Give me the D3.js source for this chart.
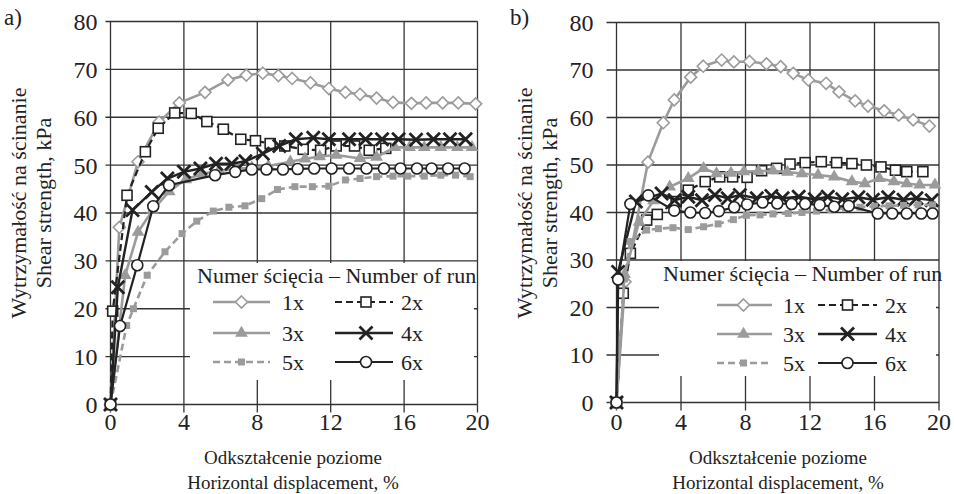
<!DOCTYPE html>
<html>
<head>
<meta charset="utf-8">
<script src="https://cdn.jsdelivr.net/npm/d3@7"></script>
<style>
  body { margin: 0; background: #fff; }
  text { font-family: "Liberation Serif", "Times New Roman", serif; fill: #222; }
</style>
</head>
<body>
<svg id="chart" width="954" height="494"></svg>
<script>
// ---- data ----
const xTicks = [0, 4, 8, 12, 16, 20];
const yTicks = [0, 10, 20, 30, 40, 50, 60, 70, 80];
const runNames = ['1x', '2x', '3x', '4x', '5x', '6x'];
const legendTitle = 'Numer ścięcia – Number of run';
const yTitle = ['Wytrzymałość na ścinanie', 'Shear strength, kPa'];
const xTitle = ['Odkształcenie poziome', 'Horizontal displacement, %'];

// panel a)  [displacement %, shear strength kPa]
const aRun1 = [[0,0],[0.48,37],[1.5,50.7],[2.65,59],[3.75,63],[5.15,65.2],[6.4,67.8],[7.4,68.8],[8.3,69.2],[9.15,68.7],[9.9,68.1],[10.9,67.2],[11.9,66],[12.8,65.2],[13.6,64.8],[14.5,64],[15.4,63.1],[16.4,62.9],[17.2,63],[18.1,63],[18.95,63],[19.9,62.8]];
const aRun2 = [[0,0],[0.12,19.5],[0.9,43.7],[1.9,52.8],[2.6,57.7],[3.5,60.9],[4.4,60.8],[5.25,59.1],[6.15,57.5],[7.1,55.4],[7.9,55.1],[8.7,54.5],[9.5,54],[10.5,53.3],[11.45,53.1],[12.3,54],[13.3,54],[14.1,53.1],[15,53.5]];
const aRun3 = [[0,0],[0.8,27],[1.5,36],[2.3,40.6],[3.2,44.5],[4.1,47],[5,48.2],[5.9,48.8],[6.8,49.2],[7.7,49.5],[8.6,49.8],[9.8,50.7],[10.6,51.3],[11.4,51.8],[12.3,52.1],[13.6,51.4],[14.5,51.7],[15.5,53.7],[16.3,53.7],[17.1,53.7],[18,53.7],[18.9,53.7],[19.7,53.7]];
const aRun4 = [[0,0],[0.4,24.5],[1.2,40.6],[2.25,44.4],[3.1,47.2],[4,48.6],[4.9,49.3],[5.75,50.3],[6.6,50.3],[7.35,50.8],[8.3,52.4],[9.2,54],[10.1,55.4],[11.05,55.7],[11.9,55.4],[13,55.4],[13.9,55.4],[14.8,55.4],[15.7,55.4],[16.65,55.3],[17.6,55.4],[18.5,55.4],[19.35,55.4]];
const aRun5 = [[0,0],[0.88,16.5],[1.25,20],[2,27],[2.97,31.9],[3.9,35.7],[4.7,38.3],[5.6,40.4],[6.45,41.2],[7.33,41.5],[8.24,43],[9.1,44.9],[10.05,45.5],[11,45.5],[11.9,45.6],[12.8,46.9],[13.6,47.2],[14.5,47.6],[15.4,47.7],[16.2,47.7],[17.1,47.7],[18,47.9],[18.8,47.9],[19.6,47.6]];
const aRun6 = [[0,0],[0.52,16.4],[1.46,29.1],[2.33,41.4],[3.19,45.8],[5.7,47.9],[6.8,48.6],[7.7,49.1],[8.5,49.1],[9.4,49.1],[10.2,49.2],[11.1,49.3],[12.05,49.3],[13,49.3],[13.95,49.3],[14.9,49.3],[15.8,49.3],[16.7,49.3],[17.5,49.3],[18.4,49.3],[19.3,49.3]];

// panel b)
const bRun1 = [[0,0],[0.53,25.4],[1.95,50.6],[2.9,58.9],[3.58,63.7],[4.6,68.5],[5.38,70.8],[6.52,72.1],[7.28,71.7],[8.25,71.8],[9.3,71.3],[10.18,70.7],[10.96,69.3],[11.9,67.9],[13,67.2],[13.8,65.4],[14.8,63.5],[15.6,62.4],[16.6,61.4],[17.5,60.5],[18.4,59.5],[19.4,58.2]];
const bRun2 = [[0,0],[0.42,23],[0.86,31.4],[1.87,38.4],[2.53,39.6],[3.7,42.3],[4.45,44.7],[5.5,46.5],[6.4,47.5],[7.2,47.5],[8.1,47.4],[9,48.8],[9.93,49.3],[10.76,50.2],[11.7,50.5],[12.7,50.7],[13.65,50.5],[14.6,50.3],[15.5,50],[16.4,49.6],[17.3,48.9],[18,48.6],[19,48.6]];
const bRun3 = [[0,0],[0.5,27],[1.4,38],[2.3,42.5],[3.3,45.4],[4.45,47.2],[5.4,49.3],[6.2,48.2],[7.1,48.3],[7.9,48.6],[8.8,48.7],[9.7,48.8],[10.6,48.5],[11.5,48.2],[12.5,47.9],[13.5,47.5],[14.6,46.5],[15.4,46.1],[16.3,47.2],[17.2,46.5],[18,46.1],[18.8,45.8],[19.75,45.8]];
const bRun4 = [[0,0],[0.1,27.5],[1.2,42.3],[2.8,44],[3.6,42.6],[4.45,43.3],[5.3,42.6],[6.1,43.7],[6.9,43],[7.65,43.7],[8.7,43],[9.6,43.5],[10.3,43],[11.3,43.3],[12.3,42.8],[13.1,43.3],[14,42.8],[15,43.2],[15.9,42.7],[16.85,43.2],[17.8,42.7],[18.6,43],[19.55,42.6]];
const bRun5 = [[0,0],[0.5,26],[0.84,33.9],[1.87,36.3],[2.6,36.6],[3.5,36.8],[4.45,36.4],[5.4,37],[6.3,37.6],[7.25,38.5],[8.05,39.4],[8.9,39.5],[9.7,39.7],[10.65,39.8],[11.5,40],[12.4,40.3],[13.3,40.6],[14.2,40.9],[15.1,41.1],[16,41.3],[16.9,41.4],[17.8,41.5],[18.7,41.6],[19.6,41.6]];
const bRun6 = [[0,0],[0.1,25.9],[0.86,41.8],[1.97,43.6],[3.58,40.4],[4.58,40],[5.5,39.9],[6.35,40.3],[7.3,41.1],[8.1,41.7],[9.06,42.1],[9.97,41.9],[10.86,41.8],[11.7,41.8],[12.6,41.6],[13.5,41.2],[14.4,41.4],[16.2,39.8],[17.1,39.8],[18,39.8],[18.9,39.8],[19.6,39.8]];

// ---- styling ----
const GRAY = '#9b9b9b';
const DARK = '#222';

const runStyle = {
  '1x': { color: GRAY, dash: null,  width: 2.6, marker: 'diamond' },
  '2x': { color: DARK, dash: '7,4', width: 2.2, marker: 'square' },
  '3x': { color: GRAY, dash: null,  width: 2.6, marker: 'triangle' },
  '4x': { color: DARK, dash: null,  width: 2.4, marker: 'cross' },
  '5x': { color: GRAY, dash: '7,4', width: 2.6, marker: 'dot' },
  '6x': { color: DARK, dash: null,  width: 2.2, marker: 'circle' }
};

const panels = [
  {
    label: 'a)', labelX: 4,
    series: [aRun1, aRun2, aRun3, aRun4, aRun5, aRun6],
    xRange: [110.5, 477.5], yRange: [404.5, 21.5],
    tickLen: 5, labelGap: 13,
    yTitleX: [26, 51], xTitleCx: 293,
    box: { x0: 190, y0: 263, x1: 474, y1: 380 },
    titleX: 197, rows: [302, 333, 362],
    cols: [{ l0: 213, l1: 270, m: 241.5, t: 282 }, { l0: 335, l1: 393, m: 366, t: 401 }]
  },
  {
    label: 'b)', labelX: 510,
    series: [bRun1, bRun2, bRun3, bRun4, bRun5, bRun6],
    xRange: [616.5, 939], yRange: [402.5, 22.5],
    tickLen: 10, labelGap: 23,
    yTitleX: [532, 557], xTitleCx: 778,
    box: { x0: 659, y0: 261, x1: 936, y1: 376 },
    titleX: 663, rows: [305, 334, 363],
    cols: [{ l0: 717, l1: 772, m: 743.5, t: 783 }, { l0: 818, l1: 877, m: 847.5, t: 885 }]
  }
];

const svg = d3.select('#chart');

// draws one marker of the given run at (cx, cy)
function drawMarker(g, run, cx, cy) {
  const st = runStyle[run];
  switch (st.marker) {
    case 'diamond':
      g.append('path')
        .attr('d', `M${cx},${cy - 6}L${cx + 6},${cy}L${cx},${cy + 6}L${cx - 6},${cy}Z`)
        .attr('fill', '#fff').attr('stroke', st.color).attr('stroke-width', 1.6);
      break;
    case 'square':
      g.append('rect')
        .attr('x', cx - 5).attr('y', cy - 5).attr('width', 10).attr('height', 10)
        .attr('fill', '#fff').attr('stroke', st.color).attr('stroke-width', 1.6);
      break;
    case 'triangle':
      g.append('path')
        .attr('d', d3.symbol(d3.symbolTriangle, 70)())
        .attr('transform', `translate(${cx},${cy})`)
        .attr('fill', st.color);
      break;
    case 'cross':
      g.append('path')
        .attr('d', `M${cx - 6.5},${cy - 6.5}L${cx + 6.5},${cy + 6.5}M${cx - 6.5},${cy + 6.5}L${cx + 6.5},${cy - 6.5}`)
        .attr('stroke', st.color).attr('stroke-width', 2.8).attr('fill', 'none');
      break;
    case 'dot':
      g.append('rect')
        .attr('x', cx - 3.5).attr('y', cy - 3.5).attr('width', 7).attr('height', 7)
        .attr('fill', st.color);
      break;
    case 'circle':
      g.append('circle')
        .attr('cx', cx).attr('cy', cy).attr('r', 5.5)
        .attr('fill', '#fff').attr('stroke', st.color).attr('stroke-width', 1.6);
      break;
  }
}

panels.forEach(p => {
  const x = d3.scaleLinear().domain([0, 20]).range(p.xRange);
  const y = d3.scaleLinear().domain([0, 80]).range(p.yRange);
  const g = svg.append('g');

  // grid + frame
  g.selectAll('line.hgrid').data(yTicks).enter().append('line')
    .attr('class', 'hgrid')
    .attr('x1', x(0) - p.tickLen).attr('x2', x(20))
    .attr('y1', d => y(d)).attr('y2', d => y(d))
    .attr('stroke', '#333').attr('stroke-width', 1.3);

  g.selectAll('line.vgrid').data(xTicks).enter().append('line')
    .attr('class', 'vgrid')
    .attr('x1', d => x(d)).attr('x2', d => x(d))
    .attr('y1', y(80)).attr('y2', y(0) + 8)
    .attr('stroke', '#333').attr('stroke-width', 1.3);

  // tick labels
  g.selectAll('text.ytick').data(yTicks).enter().append('text')
    .attr('class', 'ytick')
    .attr('x', x(0) - p.labelGap).attr('y', d => y(d))
    .attr('dy', '0.35em').attr('text-anchor', 'end')
    .attr('font-size', 24).text(d => d);

  g.selectAll('text.xtick').data(xTicks).enter().append('text')
    .attr('class', 'xtick')
    .attr('x', d => x(d)).attr('y', 430)
    .attr('text-anchor', 'middle')
    .attr('font-size', 24).text(d => d);

  // axis titles
  yTitle.forEach((t, i) => {
    g.append('text')
      .attr('transform', `translate(${p.yTitleX[i]},203) rotate(-90)`)
      .attr('text-anchor', 'middle')
      .attr('font-size', 22).text(t);
  });
  xTitle.forEach((t, i) => {
    g.append('text')
      .attr('x', p.xTitleCx).attr('y', 464 + i * 25)
      .attr('text-anchor', 'middle')
      .attr('font-size', 19).text(t);
  });

  g.append('text')
    .attr('x', p.labelX).attr('y', 25)
    .attr('font-size', 23).text(p.label);

  // series lines then markers
  const line = d3.line().x(d => x(d[0])).y(d => y(d[1]));
  p.series.forEach((data, i) => {
    const run = runNames[i];
    const st = runStyle[run];
    const sg = g.append('g');
    sg.append('path')
      .datum(data)
      .attr('d', line)
      .attr('fill', 'none')
      .attr('stroke', st.color)
      .attr('stroke-width', st.width)
      .attr('stroke-dasharray', st.dash);
    data.forEach(d => drawMarker(sg, run, x(d[0]), y(d[1])));
  });

  // legend
  const lg = g.append('g');
  const b = p.box;
  lg.append('rect')
    .attr('x', b.x0).attr('y', b.y0)
    .attr('width', b.x1 - b.x0).attr('height', b.y1 - b.y0)
    .attr('fill', '#fff');
  lg.append('text')
    .attr('x', p.titleX).attr('y', b.y0 + 12)
    .attr('dy', '0.35em')
    .attr('font-size', 22).text(legendTitle);

  runNames.forEach((run, i) => {
    const st = runStyle[run];
    const col = p.cols[i % 2];
    const ry = p.rows[Math.floor(i / 2)];
    lg.append('line')
      .attr('x1', col.l0).attr('x2', col.l1)
      .attr('y1', ry).attr('y2', ry)
      .attr('stroke', st.color).attr('stroke-width', st.width)
      .attr('stroke-dasharray', st.dash);
    drawMarker(lg, run, col.m, ry);
    lg.append('text')
      .attr('x', col.t).attr('y', ry)
      .attr('dy', '0.35em')
      .attr('font-size', 22).text(run);
  });
});
</script>
</body>
</html>
